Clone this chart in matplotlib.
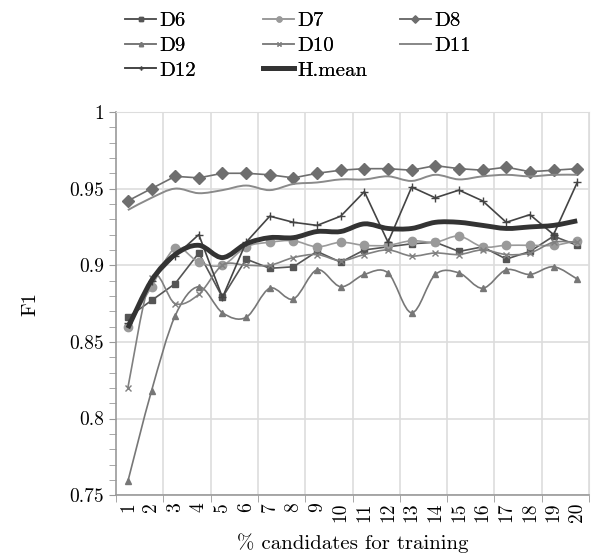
import numpy as np
import matplotlib
matplotlib.use("Agg")
import matplotlib.pyplot as plt
from matplotlib.path import Path
from matplotlib.patches import PathPatch
from matplotlib.lines import Line2D
from matplotlib.ticker import MultipleLocator, FixedLocator

plt.rcParams['font.family'] = ['cmr10', 'DejaVu Serif']
plt.rcParams['mathtext.fontset'] = 'cm'
plt.rcParams['axes.formatter.use_mathtext'] = True

pct = list(range(1, 21))

d6 = [0.866, 0.877, 0.888, 0.908, 0.879, 0.904, 0.898, 0.899, 0.909, 0.902,
      0.910, 0.912, 0.914, 0.915, 0.909, 0.912, 0.904, 0.909, 0.919, 0.913]
d7 = [0.860, 0.886, 0.911, 0.902, 0.900, 0.912, 0.915, 0.916, 0.912, 0.915,
      0.913, 0.913, 0.916, 0.915, 0.919, 0.912, 0.913, 0.913, 0.913, 0.916]
d8 = [0.942, 0.950, 0.958, 0.957, 0.960, 0.960, 0.959, 0.957, 0.960, 0.962,
      0.963, 0.963, 0.962, 0.965, 0.963, 0.962, 0.964, 0.961, 0.962, 0.963]
d9 = [0.759, 0.818, 0.867, 0.886, 0.869, 0.866, 0.885, 0.878, 0.897, 0.886,
      0.894, 0.895, 0.869, 0.894, 0.895, 0.885, 0.897, 0.894, 0.899, 0.891]
d10 = [0.820, 0.892, 0.875, 0.881, 0.900, 0.900, 0.900, 0.905, 0.907, 0.903,
       0.907, 0.910, 0.906, 0.908, 0.907, 0.910, 0.907, 0.908, 0.915, 0.915]
d11 = [0.936, 0.944, 0.950, 0.947, 0.949, 0.952, 0.949, 0.953, 0.954, 0.956,
       0.956, 0.958, 0.955, 0.959, 0.956, 0.958, 0.959, 0.958, 0.959, 0.959]
d12 = [0.862, 0.890, 0.906, 0.920, 0.879, 0.915, 0.932, 0.928, 0.926, 0.932,
       0.948, 0.915, 0.951, 0.944, 0.949, 0.942, 0.928, 0.933, 0.920, 0.954]
hmean = [0.859, 0.890, 0.907, 0.913, 0.905, 0.914, 0.918, 0.918, 0.922, 0.922,
         0.927, 0.924, 0.924, 0.928, 0.928, 0.926, 0.924, 0.925, 0.926, 0.929]

yticks = [0.75, 0.8, 0.85, 0.9, 0.95, 1.0]
ytick_labels = ["0.75", "0.8", "0.85", "0.9", "0.95", "1"]

# name, values, colour, marker, marker size, line width, smoothed
series = [
    ("D6", d6, "#555555", "s", 5, 1.2, False),
    ("D7", d7, "#9a9a9a", "o", 6, 1.2, True),
    ("D8", d8, "#6e6e6e", "D", 6, 1.2, False),
    ("D9", d9, "#777777", "^", 5, 1.2, True),
    ("D10", d10, "#808080", "x", 4, 1.2, True),
    ("D11", d11, "#8a8a8a", None, 0, 1.4, True),
    ("D12", d12, "#444444", "+", 6, 1.2, False),
    ("H.mean", hmean, "#333333", None, 0, 3.5, True),
]


def smooth_path(xs, ys):
    # excel style smoothed line: cubic bezier through every point
    p = np.column_stack([xs, ys]).astype(float)
    verts = [p[0]]
    codes = [Path.MOVETO]
    n = len(p)
    for i in range(n - 1):
        p0 = p[i - 1] if i > 0 else p[i]
        p3 = p[i + 2] if i + 2 < n else p[i + 1]
        c1 = p[i] + (p[i + 1] - p0) / 6.0
        c2 = p[i + 1] - (p3 - p[i]) / 6.0
        verts += [c1, c2, p[i + 1]]
        codes += [Path.CURVE4] * 3
    return Path(verts, codes)


fig = plt.figure(figsize=(5.92, 5.57), dpi=100)
ax = fig.add_axes([0.196, 0.111, 0.799, 0.688])

handles = {}
for name, vals, col, mk, ms, lw, smooth in series:
    z = 5 if name == "H.mean" else 3
    if smooth:
        ax.add_patch(PathPatch(smooth_path(pct, vals), facecolor="none",
                               edgecolor=col, lw=lw, zorder=z))
        if mk:
            ax.plot(pct, vals, linestyle="none", marker=mk, ms=ms, color=col,
                    mec=col, mew=1.0, zorder=z)
    else:
        ax.plot(pct, vals, color=col, lw=lw, marker=mk, ms=ms, mec=col,
                mew=1.0, zorder=z)
    handles[name] = Line2D([], [], color=col, lw=lw, marker=mk, ms=ms * 0.6,
                           mec=col)

ax.set_xlim(0.5, 20.5)
ax.set_ylim(0.75, 1.0)

ax.set_xticks(pct)
ax.set_xticklabels([str(v) for v in pct], rotation=90, fontsize=14)
ax.tick_params(axis="x", which="major", length=0, pad=5)
ax.xaxis.set_minor_locator(FixedLocator(np.arange(0.5, 21, 2)))
ax.tick_params(axis="x", which="minor", length=5, color="#999999", direction="out")

ax.set_yticks(yticks)
ax.set_yticklabels(ytick_labels, fontsize=14)
ax.yaxis.set_minor_locator(MultipleLocator(0.01))
ax.tick_params(axis="y", which="both", length=5, color="#999999", direction="out")

for x in np.arange(2.5, 21, 2):
    ax.axvline(x, color="#dddddd", lw=1.2, zorder=1)
for y in yticks:
    ax.axhline(y, color="#dddddd", lw=1.2, zorder=1)

for s in ["top", "right"]:
    ax.spines[s].set_color("#dddddd")
for s in ["left", "bottom"]:
    ax.spines[s].set_color("#999999")
    ax.spines[s].set_linewidth(1.2)

ax.set_xlabel("% candidates for training", fontsize=15, labelpad=8)
ax.set_ylabel("F1", fontsize=15, labelpad=22)

cols = [["D6", "D9", "D12"], ["D7", "D10", "H.mean"], ["D8", "D11"]]
xpos = [0.192, 0.425, 0.656]
for names, xp in zip(cols, xpos):
    leg = fig.legend([handles[n] for n in names], names, loc="upper left",
                     bbox_to_anchor=(xp, 1.0), frameon=False, fontsize=15,
                     handlelength=1.5, handletextpad=0.15, labelspacing=0.3,
                     borderaxespad=0.15)
    fig.add_artist(leg)

fig.savefig("out.png", dpi=100)
